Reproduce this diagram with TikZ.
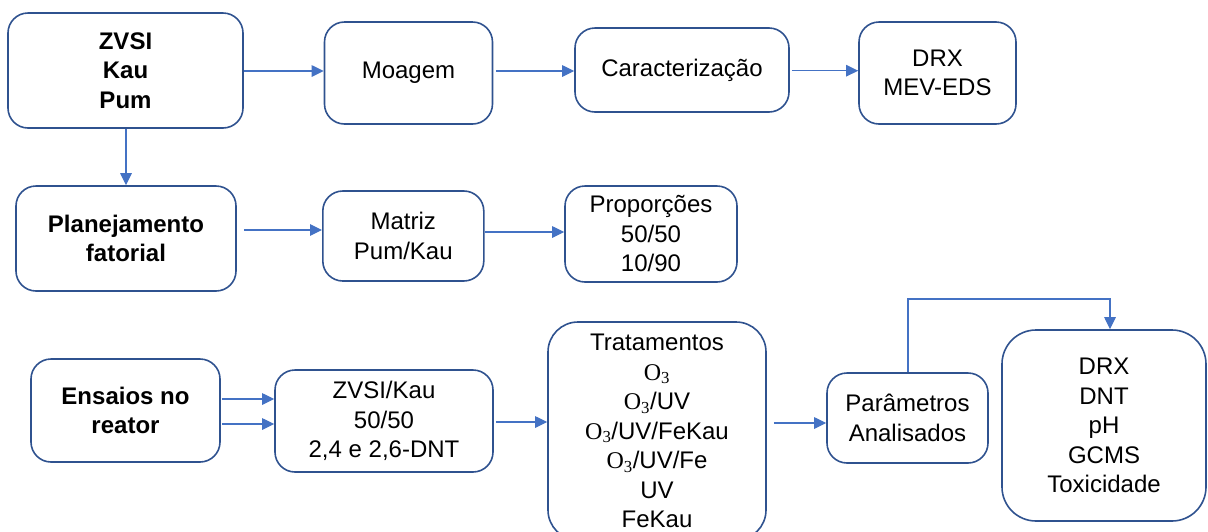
\documentclass[tikz,border=0pt]{standalone}
\usepackage{fontspec}
\setmainfont{Liberation Sans}
\newfontfamily\oserif{Liberation Serif}
\usetikzlibrary{arrows.meta}
\definecolor{boxc}{HTML}{2F528F}
\definecolor{arrc}{HTML}{4472C4}
\newcommand\Othree{{\oserif O\textsubscript{3}}}
\tikzset{
  stepbox/.style={draw=boxc, line width=1.6pt, rounded corners=#1, inner sep=0pt,
    align=center, text=black, font=\fontsize{24}{29.5}\selectfont},
  stepbox/.default=20pt,
  arr/.style={draw=arrc, line width=1.1pt, -{Triangle[length=12pt,width=11.5pt]}},
  seg/.style={draw=arrc, line width=1.1pt}
}
\begin{document}
\begin{tikzpicture}[x=1pt,y=-1pt]
\useasboundingbox (0,0) rectangle (1208,531);
\clip (0,0) rectangle (1208,531);
% row 1
\node[stepbox, minimum width=235pt, minimum height=115pt] (zvsi) at (125.5,70.5)
  {\bfseries ZVSI\\\bfseries Kau\\\bfseries Pum};
\node[stepbox, minimum width=168pt, minimum height=102pt] (moagem) at (408.5,73) {Moagem};
\node[stepbox, minimum width=214pt, minimum height=84pt] (carac) at (682,70) {Caracterização};
\node[stepbox, minimum width=157pt, minimum height=102pt] (drxa) at (937.5,73) {DRX\\MEV-EDS};
% row 2
\node[stepbox, minimum width=220pt, minimum height=105pt] (plan) at (126,238.5)
  {\bfseries Planejamento\\\bfseries fatorial};
\node[stepbox, minimum width=161pt, minimum height=90pt] (matriz) at (403.3,236) {Matriz\\Pum/Kau};
\node[stepbox, minimum width=172pt, minimum height=96pt] (prop) at (651,234) {Proporções\\50/50\\10/90};
% row 3
\node[stepbox, minimum width=189pt, minimum height=103pt] (ensaios) at (125.5,410.5)
  {\bfseries Ensaios no\\\bfseries reator};
\node[stepbox, minimum width=218pt, minimum height=102pt] (zk) at (384,421) {ZVSI/Kau\\50/50\\2,4 e 2,6-DNT};
\node[stepbox=30pt, minimum width=218pt, minimum height=218pt] (trat) at (657,431)
  {Tratamentos\\\Othree\\\Othree/UV\\\Othree/UV/FeKau\\\Othree/UV/Fe\\UV\\FeKau};
\node[stepbox, minimum width=161pt, minimum height=90pt] (param) at (907.5,418) {Parâmetros\\Analisados};
\node[stepbox=34pt, minimum width=204pt, minimum height=191pt] (drxb) at (1104,425.5)
  {DRX\\DNT\\pH\\GCMS\\Toxicidade};
% connectors
\draw[arr] (zvsi.east |- 0,71) -- (moagem.west |- 0,71);
\draw[arr, shorten <=3pt] (moagem.east |- 0,71) -- (carac.west |- 0,71);
\draw[arr, shorten <=2pt] (carac.east |- 0,70.7) -- (drxa.west |- 0,70.7);
\draw[arr] (zvsi.south -| 126,0) -- (plan.north -| 126,0);
\draw[arr, shorten <=7pt] (plan.east |- 0,230) -- (matriz.west |- 0,230);
\draw[arr] (matriz.east |- 0,232) -- (prop.west |- 0,232);
\draw[arr, shorten <=1pt] (ensaios.east |- 0,399) -- (zk.west |- 0,399);
\draw[arr, shorten <=1pt] (ensaios.east |- 0,424) -- (zk.west |- 0,424);
\draw[arr, shorten <=2pt] (zk.east |- 0,422) -- (trat.west |- 0,422);
\draw[arr, shorten <=7pt] (trat.east |- 0,423) -- (param.west |- 0,423);
\coordinate (top) at (908,299);
\draw[arr] (param.north -| top) -- (top) -| (drxb.north -| 1110,0);
\end{tikzpicture}
\end{document}
